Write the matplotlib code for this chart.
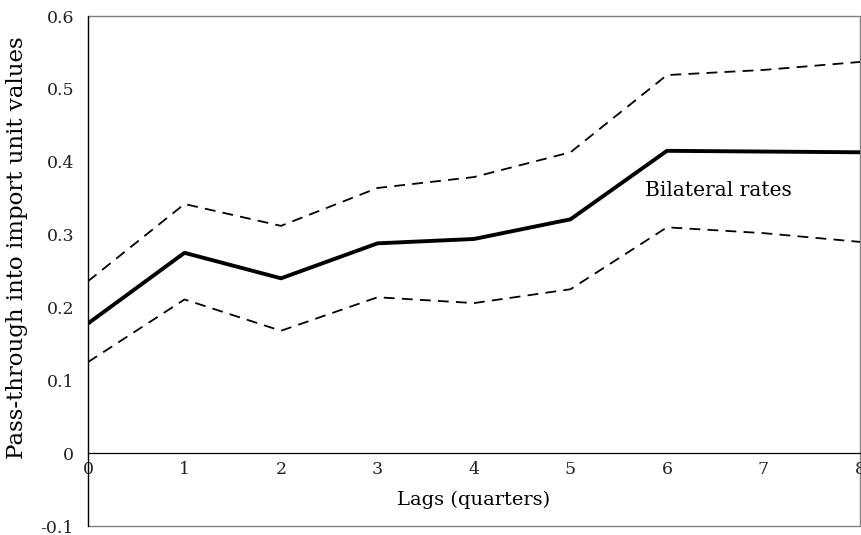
import matplotlib
matplotlib.use("Agg")
import matplotlib.pyplot as plt
from matplotlib.patches import Rectangle

# lags (quarters)
lags = [0, 1, 2, 3, 4, 5, 6, 7, 8]

# pass-through estimate and confidence bands
estimate = [0.178, 0.275, 0.240, 0.288, 0.294, 0.321, 0.415, 0.414, 0.413]
upper = [0.236, 0.342, 0.312, 0.364, 0.379, 0.413, 0.519, 0.526, 0.537]
lower = [0.125, 0.211, 0.168, 0.214, 0.206, 0.225, 0.310, 0.302, 0.290]

yticks = [-0.1, 0, 0.1, 0.2, 0.3, 0.4, 0.5, 0.6]
ytick_labels = ["-0.1", "0", "0.1", "0.2", "0.3", "0.4", "0.5", "0.6"]

plt.rcParams["font.family"] = "DejaVu Serif"

fig = plt.figure(figsize=(8.61, 5.35), dpi=100)
ax = fig.add_axes([0.1022, 0.0168, 0.8966, 0.9532])

ax.plot(lags, upper, color="black", lw=1.3, dashes=(6, 4))
ax.plot(lags, lower, color="black", lw=1.3, dashes=(6, 4))
ax.plot(lags, estimate, color="black", lw=2.8)

ax.set_xlim(0, 8)
ax.set_ylim(-0.1, 0.6)
ax.set_xticks(lags)
ax.set_xticklabels([str(v) for v in lags])
ax.set_yticks(yticks)
ax.set_yticklabels(ytick_labels)
ax.tick_params(length=0, labelsize=12.5, colors="#222222")
ax.tick_params(axis="x", pad=6)
ax.tick_params(axis="y", pad=10)

for s in ["top", "right"]:
    ax.spines[s].set_visible(False)
ax.spines["bottom"].set_position(("data", 0))
ax.spines["bottom"].set_linewidth(0.9)
ax.spines["left"].set_linewidth(0.9)
ax.add_patch(Rectangle((0, 0), 1, 1, transform=ax.transAxes, fill=False,
                       edgecolor="#808080", lw=1.0, clip_on=False, zorder=0))

ax.set_xlabel("Lags (quarters)", fontsize=14, labelpad=9)
ax.set_ylabel("Pass-through into import unit values", fontsize=16.5)
ax.yaxis.set_label_coords(-0.078, 0.545)

ax.text(5.77, 0.361, "Bilateral rates", fontsize=14.5, va="center")

fig.savefig("out.png", dpi=100)
